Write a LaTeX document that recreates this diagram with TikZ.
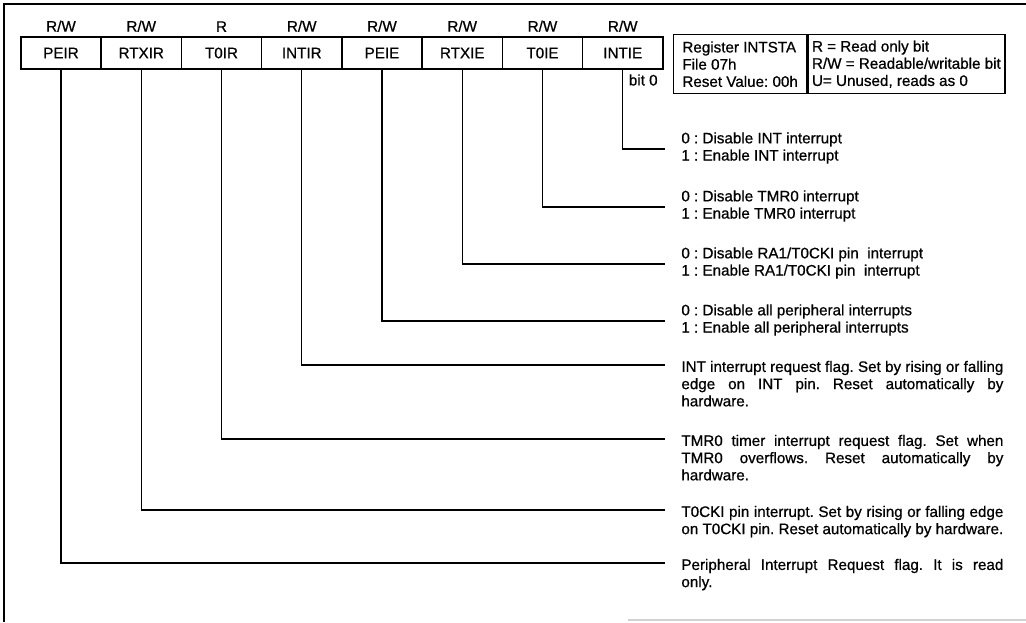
\documentclass[tikz,border=0pt]{standalone}
\usepackage{fontspec}
\setmainfont{Liberation Sans}[FakeBold=0.7]
\usetikzlibrary{positioning}
\hyphenpenalty=10000
\exhyphenpenalty=10000
\frenchspacing

\tikzset{
  frame/.style={line width=1pt},
  faint/.style={gray!35,line width=0.6pt},
  cell/.style={draw,line width=0.8pt,minimum width=40.125pt,minimum height=16pt,inner sep=0pt},
  acc/.style={inner sep=0pt},
  conn/.style={line width=0.7pt},
  pair/.style={inner sep=0pt,align=left},
  para/.style={inner sep=0pt,text width=161pt,align=justify},
  legend/.style={draw,line width=0.7pt,minimum height=29.5pt,inner ysep=0pt,align=left}
}

\begin{document}
\begin{tikzpicture}[x=0.5pt,y=-0.5pt,
  every node/.style={font=\fontsize{7.6pt}{8.6pt}\selectfont}]
\useasboundingbox (0,0) rectangle (1026,622);
% frame
\draw[frame] (1026,4) -- (4,4) -- (4,622);
\draw[faint] (628,620) -- (1026,620);
% register bits
\foreach \n/\lbl/\acc [count=\i from 0] in {peir/PEIR/{R/W},rtxir/RTXIR/{R/W},t0ir/T0IR/R,intir/INTIR/{R/W},
    peie/PEIE/{R/W},rtxie/RTXIE/{R/W},t0ie/T0IE/{R/W},intie/INTIE/{R/W}} {
  \node[cell] (\n) at ({61+80.25*\i},53) {\lbl};
  \node[acc,above=2pt of \n] (a\n) {\acc};
}
\node[anchor=east,inner sep=0pt] (bit0) at (658,80) {bit 0};
% legend
\node[legend,inner xsep=4.35pt,anchor=north west] (reg) at (673,34) {Register INTSTA\\File 07h\\Reset Value: 00h};
\node[legend,inner xsep=2pt,right=0pt of reg] (keys) {R = Read only bit\\R/W = Readable/writable bit\\U= Unused, reads as 0};
% connectors
\foreach \n/\y in {intie/149,t0ie/207,rtxie/264,peie/321,intir/365,t0ir/439,rtxir/510,peir/563} {
  \coordinate (c\n) at (665,\y);
  \draw[conn] (\n.south) |- (c\n);
}
% enable bits
\node[pair,right=8pt of cintie,yshift=0.5pt] (dintie) {0 : Disable INT interrupt\\1 : Enable INT interrupt};
\node[pair,right=8pt of ct0ie,yshift=0.5pt] (dt0ie) {0 : Disable TMR0 interrupt\\1 : Enable TMR0 interrupt};
\node[pair,right=8pt of crtxie,yshift=0.5pt] (drtxie) {0 : Disable RA1/T0CKI pin\ \ interrupt\\1 : Enable RA1/T0CKI pin\ \ interrupt};
\node[pair,right=8pt of cpeie,yshift=0.5pt] (dpeie) {0 : Disable all peripheral interrupts\\1 : Enable all peripheral interrupts};
% request flags
\node[para,below right=-2.25pt and 8pt of cintir] (dintir) {INT interrupt request flag. Set by rising or falling\linebreak edge on INT pin. Reset automatically by\linebreak hardware.};
\node[para,below right=-2.25pt and 8pt of ct0ir] (dt0ir) {TMR0 timer interrupt request flag. Set when\linebreak TMR0 overflows. Reset automatically by\linebreak hardware.};
\node[para,below right=-2.25pt and 8pt of crtxir] (drtxir) {\parfillskip=0pt T0CKI pin interrupt. Set by rising or falling edge\linebreak on T0CKI pin. Reset automatically by hardware.};
\node[para,below right=-2.25pt and 8pt of cpeir] (dpeir) {Peripheral Interrupt Request flag. It is read\linebreak only.};
\end{tikzpicture}
\end{document}
